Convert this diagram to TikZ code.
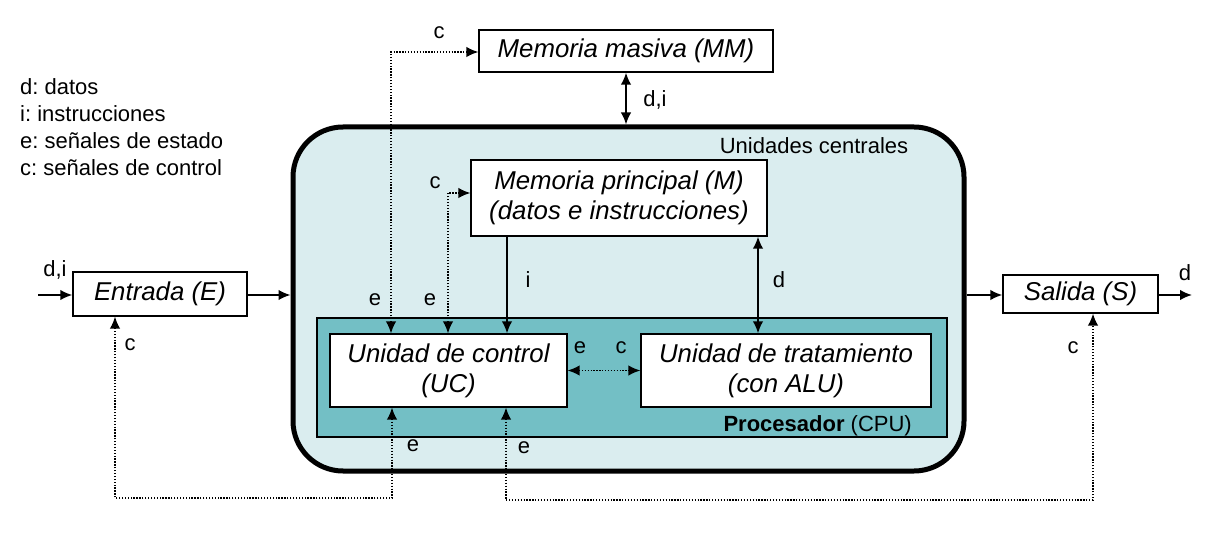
\documentclass[tikz,border=0pt]{standalone}
\usepackage{fontspec}
\setmainfont{Liberation Sans}
\usetikzlibrary{arrows.meta,calc}
\definecolor{bigfill}{HTML}{DAEDEF}
\definecolor{procfill}{HTML}{73BFC5}
\frenchspacing
\begin{document}
\begin{tikzpicture}[x=1pt,y=-1pt,
  box/.style={draw=black,line width=1.3pt,fill=white,inner sep=0pt,align=center,
    font=\fontsize{25.8}{30}\selectfont\itshape},
  lbl/.style={inner sep=0pt,font=\fontsize{22}{27}\selectfont},
  solidarr/.style={line width=1.8pt,-{Latex[length=12pt,width=10.5pt]}},
  dblarr/.style={line width=1.8pt,{Latex[length=12pt,width=10.5pt]}-{Latex[length=12pt,width=10.5pt]}},
  sig/.style={line width=1.5pt,dash pattern=on 1.3pt off 1.6pt,{Latex[length=12pt,width=10.5pt]}-{Latex[length=12pt,width=10.5pt]}}
]
\useasboundingbox (0,0) rectangle (1214,534);
% big central box
\node[draw=black,line width=5pt,fill=bigfill,rounded corners=50pt,minimum width=671pt,minimum height=344pt,inner sep=0pt] (Big) at (628.5,299) {};
\node[draw=black,line width=1.3pt,fill=procfill,minimum width=630pt,minimum height=119pt,inner sep=0pt] (Proc) at (632,377.5) {};
% boxes
\node[box,minimum width=294pt,minimum height=42pt] (MM) at (626,51) {Memoria masiva (MM)};
\node[box,minimum width=296pt,minimum height=76pt] (M) at (619,198) {Memoria principal (M)\\(datos e instrucciones)};
\node[box,minimum width=237pt,minimum height=73pt] (UC) at (448.5,370.5) {Unidad de control\\(UC)};
\node[box,minimum width=290pt,minimum height=73pt] (TU) at (786,370.5) {Unidad de tratamiento\\(con ALU)};
\node[box,minimum width=174pt,minimum height=44pt] (E) at (160,294) {Entrada (E)};
\node[box,minimum width=155pt,minimum height=38pt] (S) at (1080.5,294) {Salida (S)};
% legend and labels
\node[lbl,anchor=base west,align=left] (legend) at (20,176) {d: datos\\i: instrucciones\\e: señales de estado\\c: señales de control};
\node[lbl] (uctxt) at (814,146) {Unidades centrales};
\node[lbl,anchor=base east,font=\fontsize{22}{26}\selectfont] (proctxt) at (912,431) {\textbf{Procesador} (CPU)};
\node[lbl] (l1) at (439,33) {c};
\node[lbl] (l2) at (655,100) {d,i};
\node[lbl] (l3) at (435,183) {c};
\node[lbl] (l4) at (375,300) {e};
\node[lbl] (l5) at (430,300) {e};
\node[lbl] (l6) at (528,280) {i};
\node[lbl] (l7) at (779,280) {d};
\node[lbl] (l8) at (580,348) {e};
\node[lbl] (l9) at (621,348) {c};
\node[lbl] (l10) at (413,446) {e};
\node[lbl] (l11) at (524,448) {e};
\node[lbl] (l12) at (55,270) {d,i};
\node[lbl] (l13) at (130,345) {c};
\node[lbl] (l14) at (1185,273) {d};
\node[lbl] (l15) at (1073,348) {c};
% coordinates
\coordinate (xa) at (391,52);
\coordinate (xb) at (448,193);
\coordinate (xc) at (507,0);
\coordinate (xd) at (758,0);
\coordinate (blu) at (392,498);
\coordinate (bl) at (115,498);
\coordinate (br1) at (506,500);
\coordinate (br2) at (1093,500);
\coordinate (in) at (38,295);
\coordinate (out) at (1192,295);
% connectors
\draw[dblarr] (MM.south) -- (MM.south |- Big.north);
\draw[sig] (UC.north -| xa) -- (xa) -- (MM.west |- xa);
\draw[sig] (UC.north -| xb) -- (xb) -- (M.west |- xb);
\draw[solidarr] (M.south -| xc) -- (UC.north -| xc);
\draw[dblarr] (M.south -| xd) -- (TU.north -| xd);
\draw[sig] (UC.east) -- (TU.west);
\draw[solidarr] (in) -- (E.west |- in);
\draw[solidarr] (E.east |- in) -- (Big.west |- in);
\draw[solidarr] (Big.east |- out) -- (S.west |- out);
\draw[solidarr] (S.east |- out) -- (out);
\draw[sig] (UC.south -| blu) -- (blu) -- (bl) -- (E.south -| bl);
\draw[sig] (UC.south -| br1) -- (br1) -- (br2) -- (S.south -| br2);
\end{tikzpicture}
\end{document}
